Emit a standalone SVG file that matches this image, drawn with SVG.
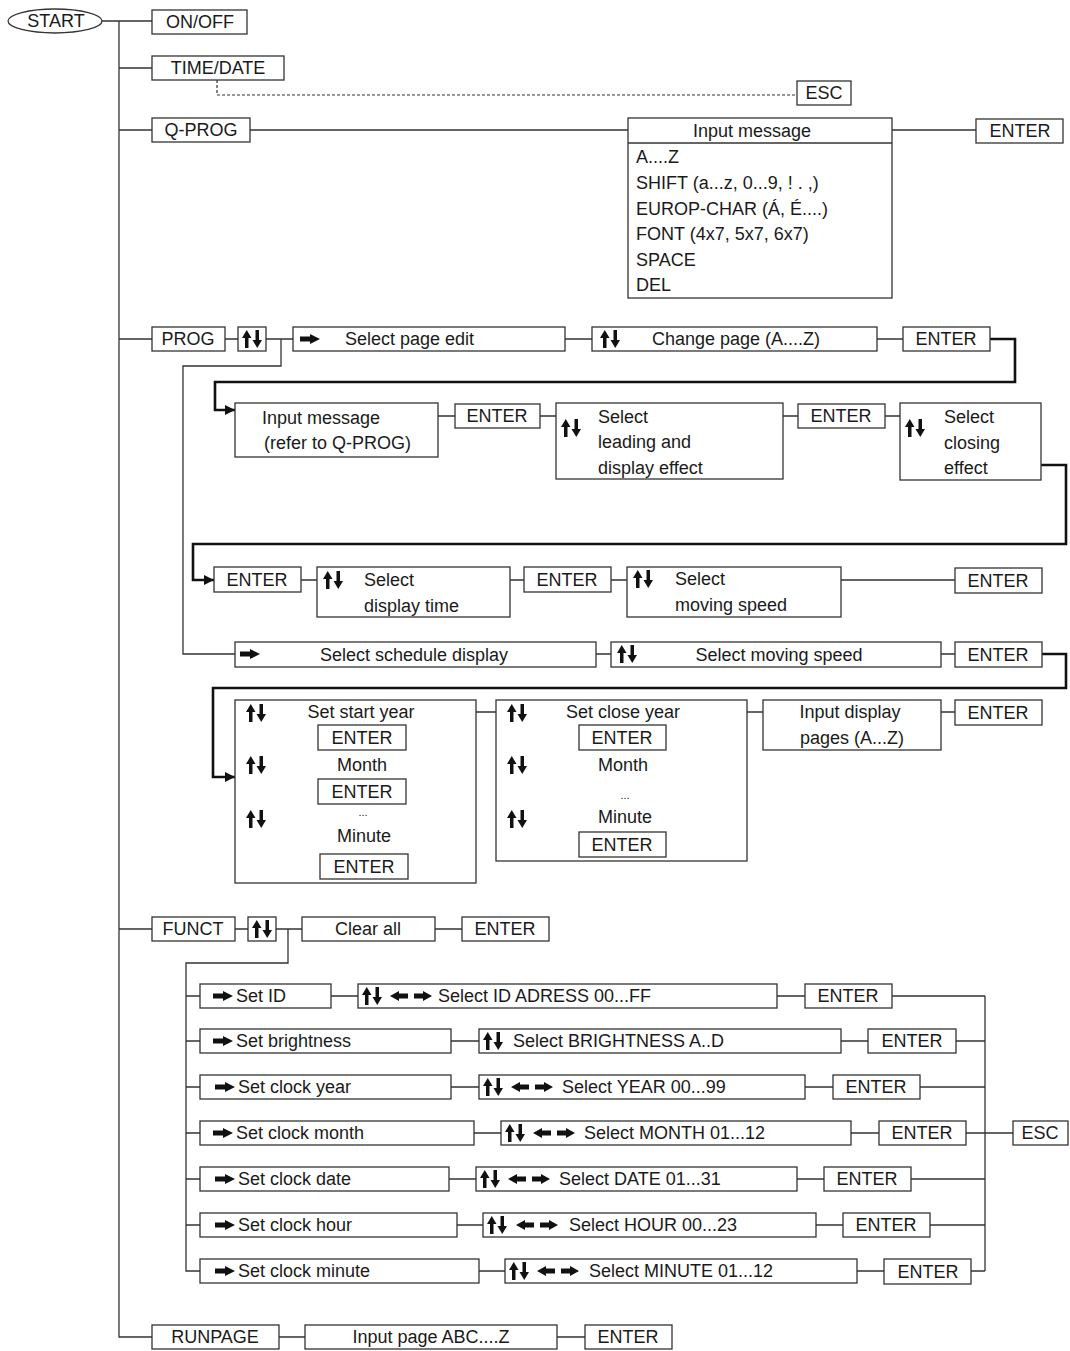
<svg xmlns="http://www.w3.org/2000/svg" xmlns:xlink="http://www.w3.org/1999/xlink" width="1070" height="1351" viewBox="0 0 1070 1351">
<style>
.b{fill:#fff;stroke:#333;stroke-width:1.3}
.t{font-family:"Liberation Sans",Arial,sans-serif;font-size:18px;fill:#1a1a1a}
.c{text-anchor:middle}
.l{fill:none;stroke:#333;stroke-width:1.3}
.k{fill:none;stroke:#111;stroke-width:2.6}
.d{fill:none;stroke:#333;stroke-width:1.2;stroke-dasharray:3 2}
</style>
<defs>
<symbol id="ud" viewBox="0 0 20 18"><path d="M4.75,0 L9.5,8 L6.5,8 L6.5,18 L3,18 L3,8 L0,8 Z M10.5,10 L13.5,10 L13.5,0 L17,0 L17,10 L20,10 L15.25,18 Z" fill="#111"/></symbol>
<symbol id="r" viewBox="0 0 20 10"><path d="M0,2.5 L10,2.5 L10,0 L20,5 L10,10 L10,7.5 L0,7.5 Z" fill="#111"/></symbol>
<symbol id="lr" viewBox="0 0 42 10"><path d="M0,5 L9,0 L9,2.5 L18,2.5 L18,7.5 L9,7.5 L9,10 Z M24,2.5 L33,2.5 L33,0 L42,5 L33,10 L33,7.5 L24,7.5 Z" fill="#111"/></symbol>
<marker id="ah" viewBox="0 0 10 10" refX="10" refY="5" markerWidth="4" markerHeight="4" markerUnits="strokeWidth" orient="auto"><path d="M0,0 L10,5 L0,10 Z" fill="#111"/></marker>
</defs>

<g id="connectors">
<path class="l" d="M101,21 H152 M119,21 V1337 H152 M119,68 H152 M119,130 H152 M250,130 H628 M892,130 H976"/>
<path class="d" d="M217,80 V95 H797"/>
<path class="l" d="M119,339 H152 M225,339 H238 M266,339 H293 M281,339 V366 H183 V654 H235 M565,339 H592 M877,339 H903"/>
<path class="k" d="M990,339 H1015 V382 H215 V410 H235" marker-end="url(#ah)"/>
<path class="l" d="M438,416 H455 M540,416 H556 M783,416 H798 M885,416 H900"/>
<path class="k" d="M1041,465 H1066 V544 H193 V580 H214" marker-end="url(#ah)"/>
<path class="l" d="M301,580 H317 M510,580 H524 M611,580 H627 M841,580 H955"/>
<path class="l" d="M596,654 H611 M941,654 H955"/>
<path class="k" d="M1042,654 H1066 V688 H213 V777 H235" marker-end="url(#ah)"/>
<path class="l" d="M476,712 H496 M747,712 H763 M941,712 H955"/>
<path class="l" d="M119,929 H152 M235,929 H248 M276,929 H302 M288,929 V963 H186 V1271 H200 M435,929 H462"/>
<path class="l" d="M186,996 H200 M331,996 H358 M777,996 H805 M892,996 H985
M186,1041 H200 M451,1041 H479 M841,1041 H868 M956,1041 H985
M186,1087 H200 M451,1087 H479 M805,1087 H833 M920,1087 H985
M186,1133 H200 M474,1133 H501 M851,1133 H879 M966,1133 H1013
M186,1179 H200 M449,1179 H476 M797,1179 H824 M911,1179 H985
M186,1225 H200 M457,1225 H483 M816,1225 H843 M930,1225 H985
M479,1271 H505 M857,1271 H884 M971,1271 H985
M985,996 V1271"/>
<path class="l" d="M279,1337 H305 M557,1337 H585"/>
</g>

<g id="start"><ellipse class="b" cx="55" cy="21" rx="47" ry="12"/><text class="t c" x="56" y="27">START</text></g>
<g id="onoff"><rect class="b" x="152" y="10" width="95" height="24"/><text class="t c" x="200" y="28">ON/OFF</text></g>
<g id="timedate"><rect class="b" x="152" y="56" width="132" height="24"/><text class="t c" x="218" y="74">TIME/DATE</text></g>
<g id="esc1"><rect class="b" x="797" y="81" width="54" height="24"/><text class="t c" x="824" y="99">ESC</text></g>
<g id="qprog"><rect class="b" x="152" y="118" width="98" height="24"/><text class="t c" x="201" y="136">Q-PROG</text></g>
<g id="inputmsg">
<rect class="b" x="628" y="118" width="264" height="180"/><path class="l" d="M628,143 H892"/>
<text class="t c" x="752" y="137">Input message</text>
<text class="t" x="636" y="163">A....Z</text>
<text class="t" x="636" y="189">SHIFT (a...z, 0...9, ! . ,)</text>
<text class="t" x="636" y="215">EUROP-CHAR (Á, É....)</text>
<text class="t" x="636" y="240">FONT (4x7, 5x7, 6x7)</text>
<text class="t" x="636" y="266">SPACE</text>
<text class="t" x="636" y="291">DEL</text>
</g>
<g id="enter-q"><rect class="b" x="976" y="119" width="87" height="24"/><text class="t c" x="1020" y="137">ENTER</text></g>

<g id="prog"><rect class="b" x="152" y="327" width="73" height="24"/><text class="t c" x="188" y="345">PROG</text></g>
<g id="prog-ud"><rect class="b" x="238" y="327" width="28" height="24"/><use href="#ud" x="242" y="330" width="20" height="18"/></g>
<g id="selpage"><rect class="b" x="293" y="327" width="272" height="24"/><use href="#r" x="300" y="334" width="20" height="10"/><text class="t" x="345" y="345">Select page edit</text></g>
<g id="changepage"><rect class="b" x="592" y="327" width="285" height="24"/><use href="#ud" x="600" y="330" width="20" height="18"/><text class="t" x="652" y="345">Change page (A....Z)</text></g>
<g id="enter-p1"><rect class="b" x="903" y="327" width="87" height="24"/><text class="t c" x="946" y="345">ENTER</text></g>

<g id="inputref"><rect class="b" x="235" y="403" width="203" height="54"/><text class="t" x="262" y="424">Input message</text><text class="t" x="264" y="449">(refer to Q-PROG)</text></g>
<g id="enter-p2"><rect class="b" x="455" y="404" width="85" height="24"/><text class="t c" x="497" y="422">ENTER</text></g>
<g id="leading"><rect class="b" x="556" y="403" width="227" height="76"/><use href="#ud" x="561" y="419" width="20" height="18"/><text class="t" x="598" y="423">Select</text><text class="t" x="598" y="448">leading and</text><text class="t" x="598" y="474">display effect</text></g>
<g id="enter-p3"><rect class="b" x="798" y="404" width="87" height="24"/><text class="t c" x="841" y="422">ENTER</text></g>
<g id="closing"><rect class="b" x="900" y="403" width="141" height="77"/><use href="#ud" x="905" y="419" width="20" height="18"/><text class="t" x="944" y="423">Select</text><text class="t" x="944" y="449">closing</text><text class="t" x="944" y="474">effect</text></g>

<g id="enter-p4"><rect class="b" x="214" y="567" width="87" height="25"/><text class="t c" x="257" y="586">ENTER</text></g>
<g id="disptime"><rect class="b" x="317" y="567" width="193" height="50"/><use href="#ud" x="323" y="571" width="20" height="18"/><text class="t" x="364" y="586">Select</text><text class="t" x="364" y="612">display time</text></g>
<g id="enter-p5"><rect class="b" x="524" y="567" width="87" height="25"/><text class="t c" x="567" y="586">ENTER</text></g>
<g id="movspeed"><rect class="b" x="627" y="567" width="214" height="50"/><use href="#ud" x="633" y="570" width="20" height="18"/><text class="t" x="675" y="585">Select</text><text class="t" x="675" y="611">moving speed</text></g>
<g id="enter-p6"><rect class="b" x="955" y="568" width="87" height="25"/><text class="t c" x="998" y="587">ENTER</text></g>

<g id="schedule"><rect class="b" x="235" y="642" width="361" height="25"/><use href="#r" x="240" y="649" width="20" height="10"/><text class="t c" x="414" y="661">Select schedule display</text></g>
<g id="movspeed2"><rect class="b" x="611" y="642" width="330" height="25"/><use href="#ud" x="617" y="645" width="20" height="18"/><text class="t c" x="779" y="661">Select moving speed</text></g>
<g id="enter-s1"><rect class="b" x="955" y="642" width="87" height="25"/><text class="t c" x="998" y="661">ENTER</text></g>

<g id="startyear">
<rect class="b" x="235" y="700" width="241" height="183"/>
<use href="#ud" x="246" y="704" width="20" height="18"/><use href="#ud" x="246" y="756" width="20" height="18"/><use href="#ud" x="246" y="810" width="20" height="18"/>
<text class="t c" x="361" y="718">Set start year</text>
<rect class="b" x="318" y="725" width="88" height="25"/><text class="t c" x="362" y="744">ENTER</text>
<text class="t c" x="362" y="771">Month</text>
<rect class="b" x="318" y="779" width="88" height="25"/><text class="t c" x="362" y="798">ENTER</text>
<text class="t c" x="363" y="816" style="font-size:11px">...</text>
<text class="t c" x="364" y="842">Minute</text>
<rect class="b" x="320" y="854" width="88" height="25"/><text class="t c" x="364" y="873">ENTER</text>
</g>
<g id="closeyear">
<rect class="b" x="496" y="700" width="251" height="161"/>
<use href="#ud" x="507" y="704" width="20" height="18"/><use href="#ud" x="507" y="756" width="20" height="18"/><use href="#ud" x="507" y="810" width="20" height="18"/>
<text class="t c" x="623" y="718">Set close year</text>
<rect class="b" x="579" y="725" width="87" height="25"/><text class="t c" x="622" y="744">ENTER</text>
<text class="t c" x="623" y="771">Month</text>
<text class="t c" x="625" y="799" style="font-size:11px">...</text>
<text class="t c" x="625" y="823">Minute</text>
<rect class="b" x="579" y="832" width="87" height="25"/><text class="t c" x="622" y="851">ENTER</text>
</g>
<g id="disppages"><rect class="b" x="763" y="700" width="178" height="50"/><text class="t c" x="850" y="718">Input display</text><text class="t c" x="852" y="744">pages (A...Z)</text></g>
<g id="enter-s2"><rect class="b" x="955" y="700" width="87" height="25"/><text class="t c" x="998" y="719">ENTER</text></g>

<g id="funct"><rect class="b" x="152" y="917" width="83" height="24"/><text class="t c" x="193" y="935">FUNCT</text></g>
<g id="funct-ud"><rect class="b" x="248" y="917" width="28" height="24"/><use href="#ud" x="252" y="920" width="20" height="18"/></g>
<g id="clearall"><rect class="b" x="302" y="917" width="133" height="24"/><text class="t c" x="368" y="935">Clear all</text></g>
<g id="enter-f0"><rect class="b" x="462" y="917" width="87" height="24"/><text class="t c" x="505" y="935">ENTER</text></g>

<g id="setid"><rect class="b" x="200" y="984" width="131" height="24"/><use href="#r" x="213" y="991" width="20" height="10"/><text class="t" x="236" y="1002">Set ID</text></g>
<g id="selid"><rect class="b" x="358" y="984" width="419" height="24"/><use href="#ud" x="362" y="987" width="20" height="18"/><use href="#lr" x="390" y="991" width="42" height="10"/><text class="t" x="438" y="1002">Select ID ADRESS 00...FF</text></g>
<g id="enter-f1"><rect class="b" x="805" y="984" width="87" height="24"/><text class="t c" x="848" y="1002">ENTER</text></g>

<g id="setbright"><rect class="b" x="200" y="1029" width="251" height="24"/><use href="#r" x="213" y="1036" width="20" height="10"/><text class="t" x="236" y="1047">Set brightness</text></g>
<g id="selbright"><rect class="b" x="479" y="1029" width="362" height="24"/><use href="#ud" x="483" y="1032" width="20" height="18"/><text class="t" x="513" y="1047">Select BRIGHTNESS A..D</text></g>
<g id="enter-f2"><rect class="b" x="868" y="1029" width="88" height="24"/><text class="t c" x="912" y="1047">ENTER</text></g>

<g id="setyear"><rect class="b" x="200" y="1075" width="251" height="24"/><use href="#r" x="215" y="1082" width="20" height="10"/><text class="t" x="238" y="1093">Set clock year</text></g>
<g id="selyear"><rect class="b" x="479" y="1075" width="326" height="24"/><use href="#ud" x="483" y="1078" width="20" height="18"/><use href="#lr" x="511" y="1082" width="42" height="10"/><text class="t" x="562" y="1093">Select YEAR 00...99</text></g>
<g id="enter-f3"><rect class="b" x="833" y="1075" width="87" height="24"/><text class="t c" x="876" y="1093">ENTER</text></g>

<g id="setmonth"><rect class="b" x="200" y="1121" width="274" height="24"/><use href="#r" x="213" y="1128" width="20" height="10"/><text class="t" x="236" y="1139">Set clock month</text></g>
<g id="selmonth"><rect class="b" x="501" y="1121" width="350" height="24"/><use href="#ud" x="505" y="1124" width="20" height="18"/><use href="#lr" x="533" y="1128" width="42" height="10"/><text class="t" x="584" y="1139">Select MONTH 01...12</text></g>
<g id="enter-f4"><rect class="b" x="879" y="1121" width="87" height="24"/><text class="t c" x="922" y="1139">ENTER</text></g>
<g id="esc2"><rect class="b" x="1013" y="1121" width="55" height="24"/><text class="t c" x="1040" y="1139">ESC</text></g>

<g id="setdate"><rect class="b" x="200" y="1167" width="249" height="24"/><use href="#r" x="215" y="1174" width="20" height="10"/><text class="t" x="238" y="1185">Set clock date</text></g>
<g id="seldate"><rect class="b" x="476" y="1167" width="321" height="24"/><use href="#ud" x="480" y="1170" width="20" height="18"/><use href="#lr" x="508" y="1174" width="42" height="10"/><text class="t" x="559" y="1185">Select DATE 01...31</text></g>
<g id="enter-f5"><rect class="b" x="824" y="1167" width="87" height="24"/><text class="t c" x="867" y="1185">ENTER</text></g>

<g id="sethour"><rect class="b" x="200" y="1213" width="257" height="24"/><use href="#r" x="215" y="1220" width="20" height="10"/><text class="t" x="238" y="1231">Set clock hour</text></g>
<g id="selhour"><rect class="b" x="483" y="1213" width="333" height="24"/><use href="#ud" x="487" y="1216" width="20" height="18"/><use href="#lr" x="516" y="1220" width="42" height="10"/><text class="t" x="569" y="1231">Select HOUR 00...23</text></g>
<g id="enter-f6"><rect class="b" x="843" y="1213" width="87" height="24"/><text class="t c" x="886" y="1231">ENTER</text></g>

<g id="setminute"><rect class="b" x="200" y="1259" width="279" height="24"/><use href="#r" x="215" y="1266" width="20" height="10"/><text class="t" x="238" y="1277">Set clock minute</text></g>
<g id="selminute"><rect class="b" x="505" y="1259" width="352" height="24"/><use href="#ud" x="509" y="1262" width="20" height="18"/><use href="#lr" x="537" y="1266" width="42" height="10"/><text class="t" x="589" y="1277">Select MINUTE 01...12</text></g>
<g id="enter-f7"><rect class="b" x="884" y="1259" width="87" height="25"/><text class="t c" x="928" y="1278">ENTER</text></g>

<g id="runpage"><rect class="b" x="152" y="1325" width="127" height="24"/><text class="t c" x="215" y="1343">RUNPAGE</text></g>
<g id="inputpage"><rect class="b" x="305" y="1325" width="252" height="24"/><text class="t c" x="431" y="1343">Input page ABC....Z</text></g>
<g id="enter-r"><rect class="b" x="585" y="1325" width="87" height="24"/><text class="t c" x="628" y="1343">ENTER</text></g>
</svg>
